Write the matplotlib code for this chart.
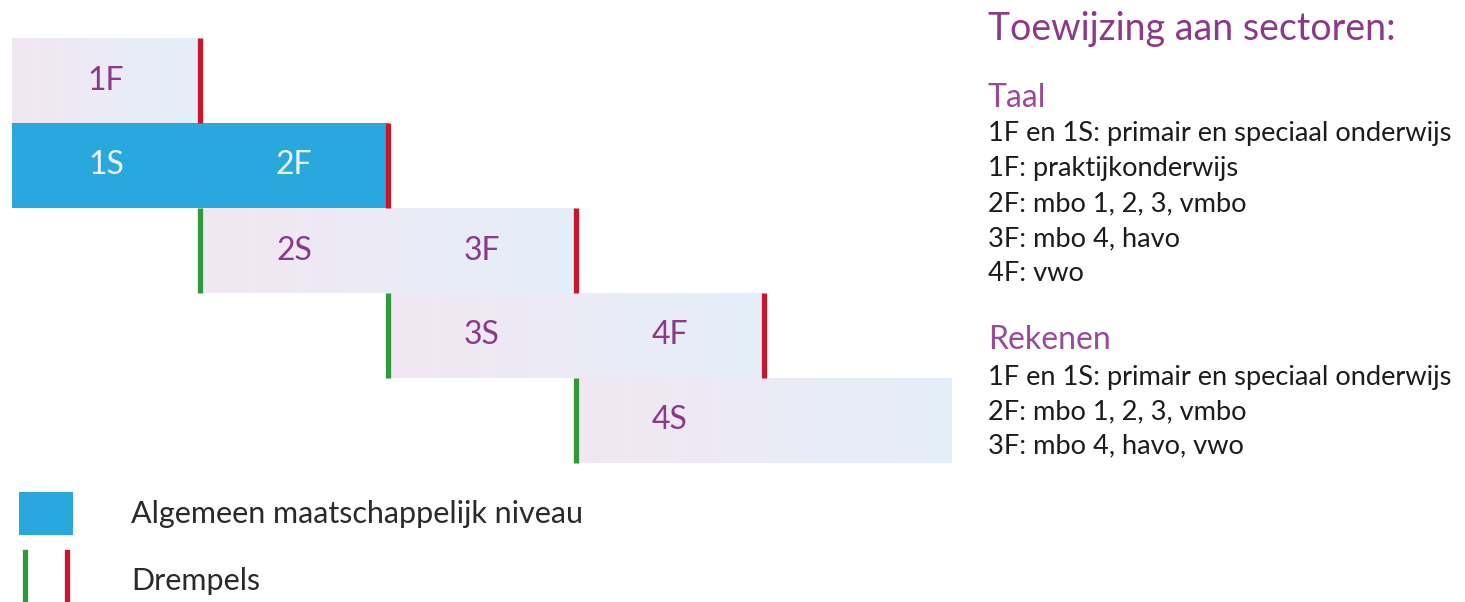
import numpy as np
import matplotlib
matplotlib.use("Agg")
import matplotlib.pyplot as plt
from matplotlib.colors import LinearSegmentedColormap
from matplotlib.patches import Rectangle

plt.rcParams['font.family'] = ['Lato', 'DejaVu Sans']

# levels per row (start / end in level steps)
bar_start = [0, 0, 1, 2, 3]
bar_end = [1, 2, 3, 4, 5]
bar_labels = [["1F"], ["1S", "2F"], ["2S", "3F"], ["3S", "4F"], ["4S"]]
highlight = [False, True, False, False, False]   # algemeen maatschappelijk niveau
red_drempel = [True, True, True, True, False]
green_drempel = [False, False, True, True, True]

title = "Toewijzing aan sectoren:"
taal_lines = ["1F en 1S: primair en speciaal onderwijs",
              "1F: praktijkonderwijs",
              "2F: mbo 1, 2, 3, vmbo",
              "3F: mbo 4, havo",
              "4F: vwo"]
rekenen_lines = ["1F en 1S: primair en speciaal onderwijs",
                 "2F: mbo 1, 2, 3, vmbo",
                 "3F: mbo 4, havo, vwo"]

BLUE = '#29a8dd'
RED = '#c8162c'
GREEN = '#2f993b'
PURPLE = '#8a3a88'
pale = LinearSegmentedColormap.from_list('pale', ['#f2e7f2', '#e4eff9'])

W, H = 1465, 602
fig = plt.figure(figsize=(W / 100, H / 100), dpi=100)
ax = fig.add_axes([0, 0, 1, 1])
unit_x, x0 = 188, 12
unit_y, y0 = 85, 38
ax.axis('off')

grad = np.linspace(0, 1, 256).reshape(1, -1)
for i in range(len(bar_start)):
    s, e = bar_start[i], bar_end[i]
    if highlight[i]:
        ax.add_patch(Rectangle((s, i), e - s, 1, color=BLUE, lw=0, zorder=2))
        tc = '#eaf6fc'
    else:
        ax.imshow(grad, cmap=pale, extent=[s, e, i + 1, i], aspect='auto',
                  interpolation='bilinear', zorder=1)
        tc = PURPLE
    for k, lab in enumerate(bar_labels[i]):
        ax.text(s + k + 0.5, i + 0.5, lab, ha='center', va='center',
                fontsize=23, color=tc, zorder=4)
    if red_drempel[i]:
        ax.plot([e, e], [i, i + 1], color=RED, lw=3.8, solid_capstyle='butt', zorder=3)
    if green_drempel[i]:
        ax.plot([s, s], [i, i + 1], color=GREEN, lw=3.8, solid_capstyle='butt', zorder=3)

ax.set_xlim(-x0 / unit_x, (W - x0) / unit_x)
ax.set_ylim((H - y0) / unit_y, -y0 / unit_y)


def fx(px):
    return px / W


def fy(py):
    return 1 - py / H


# right-hand text block
fig.text(fx(988), fy(40), title, fontsize=27, color=PURPLE, va='baseline')
fig.text(fx(988), fy(107), "Taal", fontsize=23, color='#9a4a98', va='baseline')
for j, line in enumerate(taal_lines):
    fig.text(fx(988), fy(141 + 35 * j), line, fontsize=19.6, color='#1c1c1c', va='baseline')
fig.text(fx(988), fy(349), "Rekenen", fontsize=23, color='#9a4a98', va='baseline')
for j, line in enumerate(rekenen_lines):
    fig.text(fx(988), fy(385 + 34 * j), line, fontsize=19.6, color='#1c1c1c', va='baseline')

# legend
fig.add_artist(Rectangle((fx(19), fy(535)), fx(54), 43 / H, color=BLUE, lw=0))
fig.add_artist(plt.Line2D([fx(25), fx(25)], [fy(552), fy(602)], color=GREEN, lw=3.8))
fig.add_artist(plt.Line2D([fx(67), fx(67)], [fy(552), fy(602)], color=RED, lw=3.8))
fig.text(fx(131), fy(523), "Algemeen maatschappelijk niveau", fontsize=22, color='#2a2a2a', va='baseline')
fig.text(fx(131), fy(590), "Drempels", fontsize=22, color='#2a2a2a', va='baseline')

fig.savefig('out.png', dpi=100)
